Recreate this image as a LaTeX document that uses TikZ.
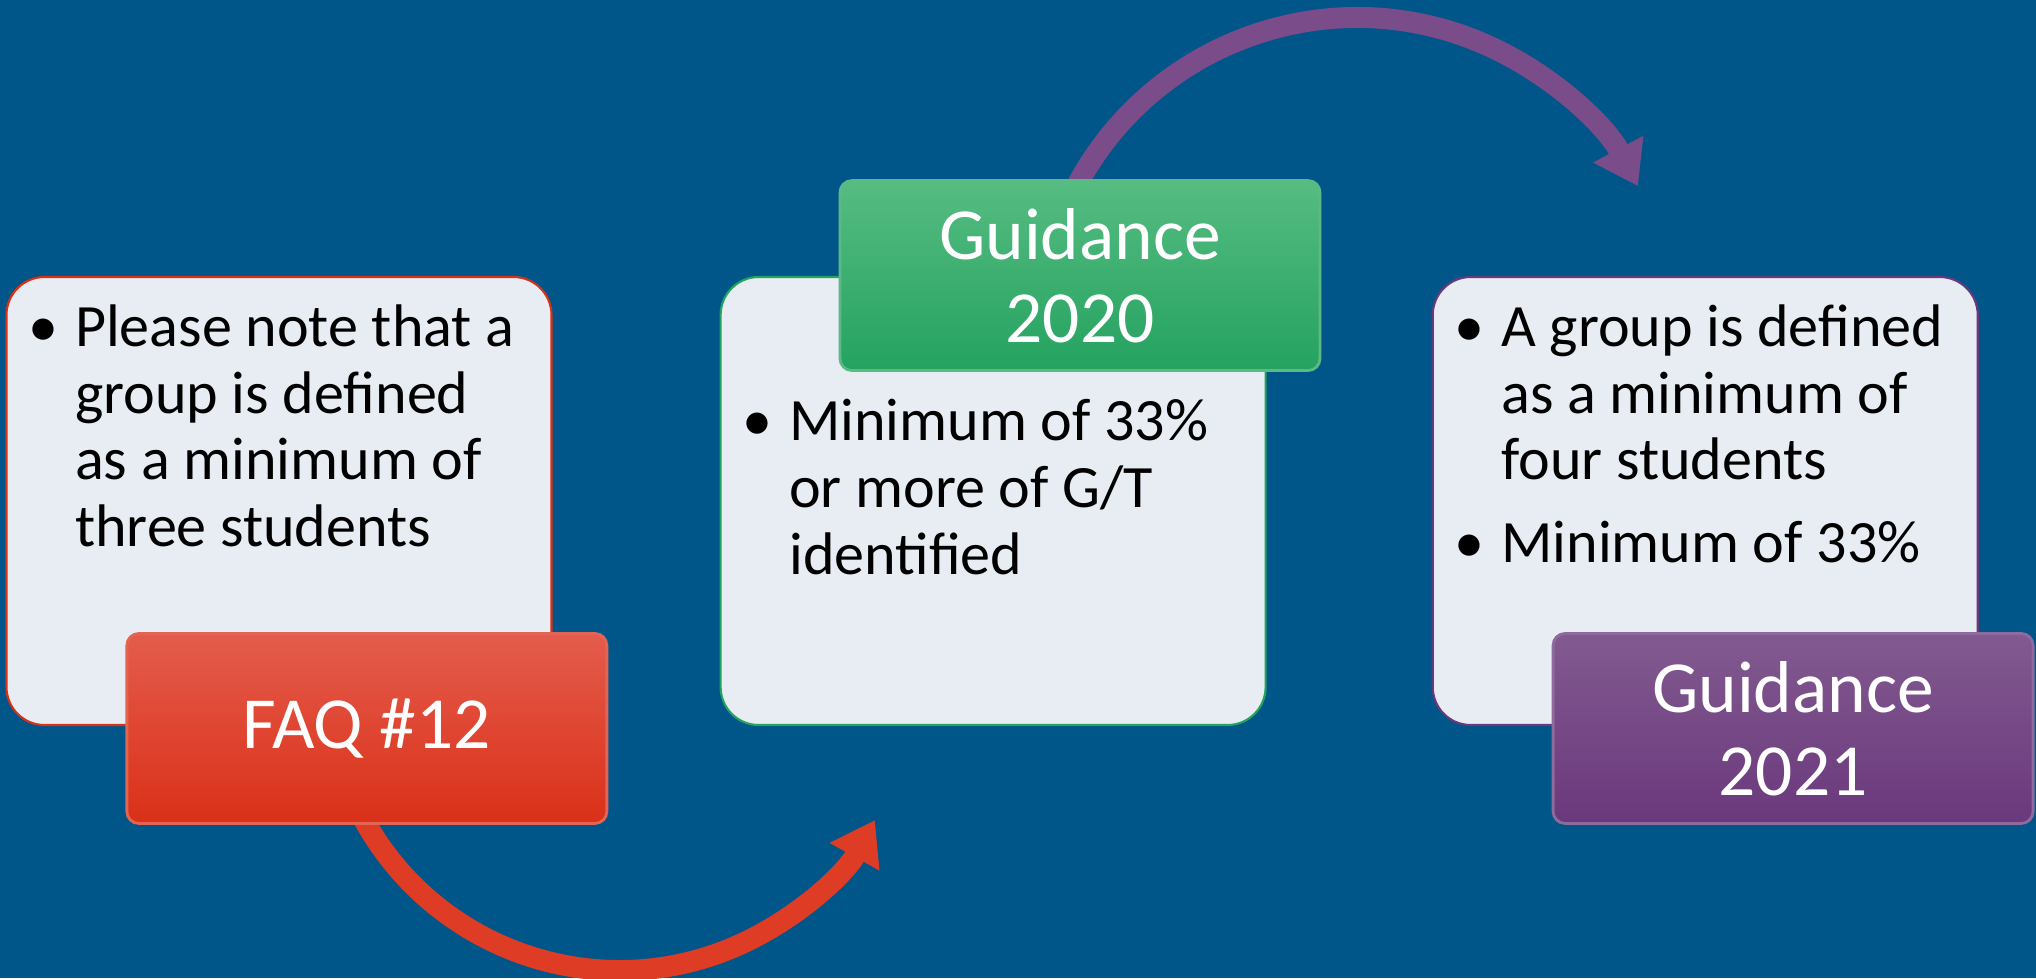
\documentclass[tikz,border=0pt]{standalone}
\usepackage{fontspec}
\setmainfont{Carlito}
\usetikzlibrary{positioning,arrows.meta,shadings}
\definecolor{bgblue}{RGB}{0,86,136}
\definecolor{cardgray}{RGB}{231,237,243}
\definecolor{faqred}{RGB}{218,48,24}
\definecolor{faqredtop}{RGB}{228,92,76}
\definecolor{gdgreen}{RGB}{36,162,96}
\definecolor{gdgreentop}{RGB}{86,188,130}
\definecolor{gdpurple}{RGB}{106,56,124}
\definecolor{gdpurpletop}{RGB}{130,90,144}
\definecolor{arrred}{RGB}{222,60,36}
\definecolor{arrpurple}{RGB}{122,76,138}
\pgfdeclarelayer{bg}
\pgfdeclarelayer{arrows}
\pgfsetlayers{bg,arrows,main}
\tikzset{
  card/.style={draw=#1, line width=0.6pt, fill=cardgray, rounded corners=0.38cm,
    minimum width=5.45cm, minimum height=4.48cm, inner sep=0pt},
  tag/.style={draw=#1!75!white, line width=0.8pt, top color=#1top, bottom color=#1,
    rounded corners=0.12cm, minimum width=4.8cm, minimum height=1.9cm, inner sep=0pt,
    text=white, align=center, font=\fontsize{20.9}{23.6}\selectfont},
  bullets/.style={anchor=north west, inner sep=0pt, align=left,
    font=\fontsize{17.1}{18.97}\selectfont},
  loop arrow/.style={draw=#1, line width=0.21cm,
    -{Triangle[width=0.54cm,length=0.42cm]}}
}
\newcommand{\bul}{\llap{\textbullet\hspace{0.17cm}}}
\begin{document}
\begin{tikzpicture}
\begin{pgfonlayer}{bg}
  \fill[bgblue] (0,0) rectangle (20.36,9.78);
\end{pgfonlayer}
\useasboundingbox (0,0) rectangle (20.36,9.78);

% white cards
\node[card=faqred] (card1) at (2.79,4.77) {};
\node[card=gdgreen, right=1.67cm of card1] (card2) {};
\node[card=gdpurple, right=1.65cm of card2] (card3) {};

% card texts
\node[bullets] (txt1) at ([xshift=0.69cm,yshift=-0.28cm]card1.north west)
  {\bul Please note that a\\group is defined\\as a minimum of\\three students};
\node[bullets] (txt2) at ([xshift=0.69cm,yshift=-1.23cm]card2.north west)
  {\bul Minimum of 33\%\\or more of G/T\\identified};
\node[bullets] (txt3) at ([xshift=0.69cm,yshift=-0.28cm]card3.north west)
  {\bul A group is defined\\as a minimum of\\four students\\[0.16cm]\bul Minimum of 33\%};

% coloured tags
\node[tag=faqred, anchor=north west] (faq) at ([xshift=1.2cm,yshift=0.94cm]card1.south west) {FAQ \#12};
\node[tag=gdgreen, anchor=south west] (g2020) at ([xshift=1.19cm,yshift=-0.96cm]card2.north west) {Guidance\\2020};
\node[tag=gdpurple, anchor=north west] (g2021) at ([xshift=1.2cm,yshift=0.94cm]card3.south west) {Guidance\\2021};

% curved arrows
\begin{pgfonlayer}{arrows}
  \draw[loop arrow=arrred] ([xshift=-0.12cm,yshift=0.23cm]faq.south)
    arc[start angle=205, end angle=331, radius=2.92cm];
  \draw[loop arrow=arrpurple] ([xshift=-0.11cm,yshift=-0.22cm]g2020.north)
    arc[start angle=155, end angle=28, radius=3.18cm];
\end{pgfonlayer}
\end{tikzpicture}
\end{document}
